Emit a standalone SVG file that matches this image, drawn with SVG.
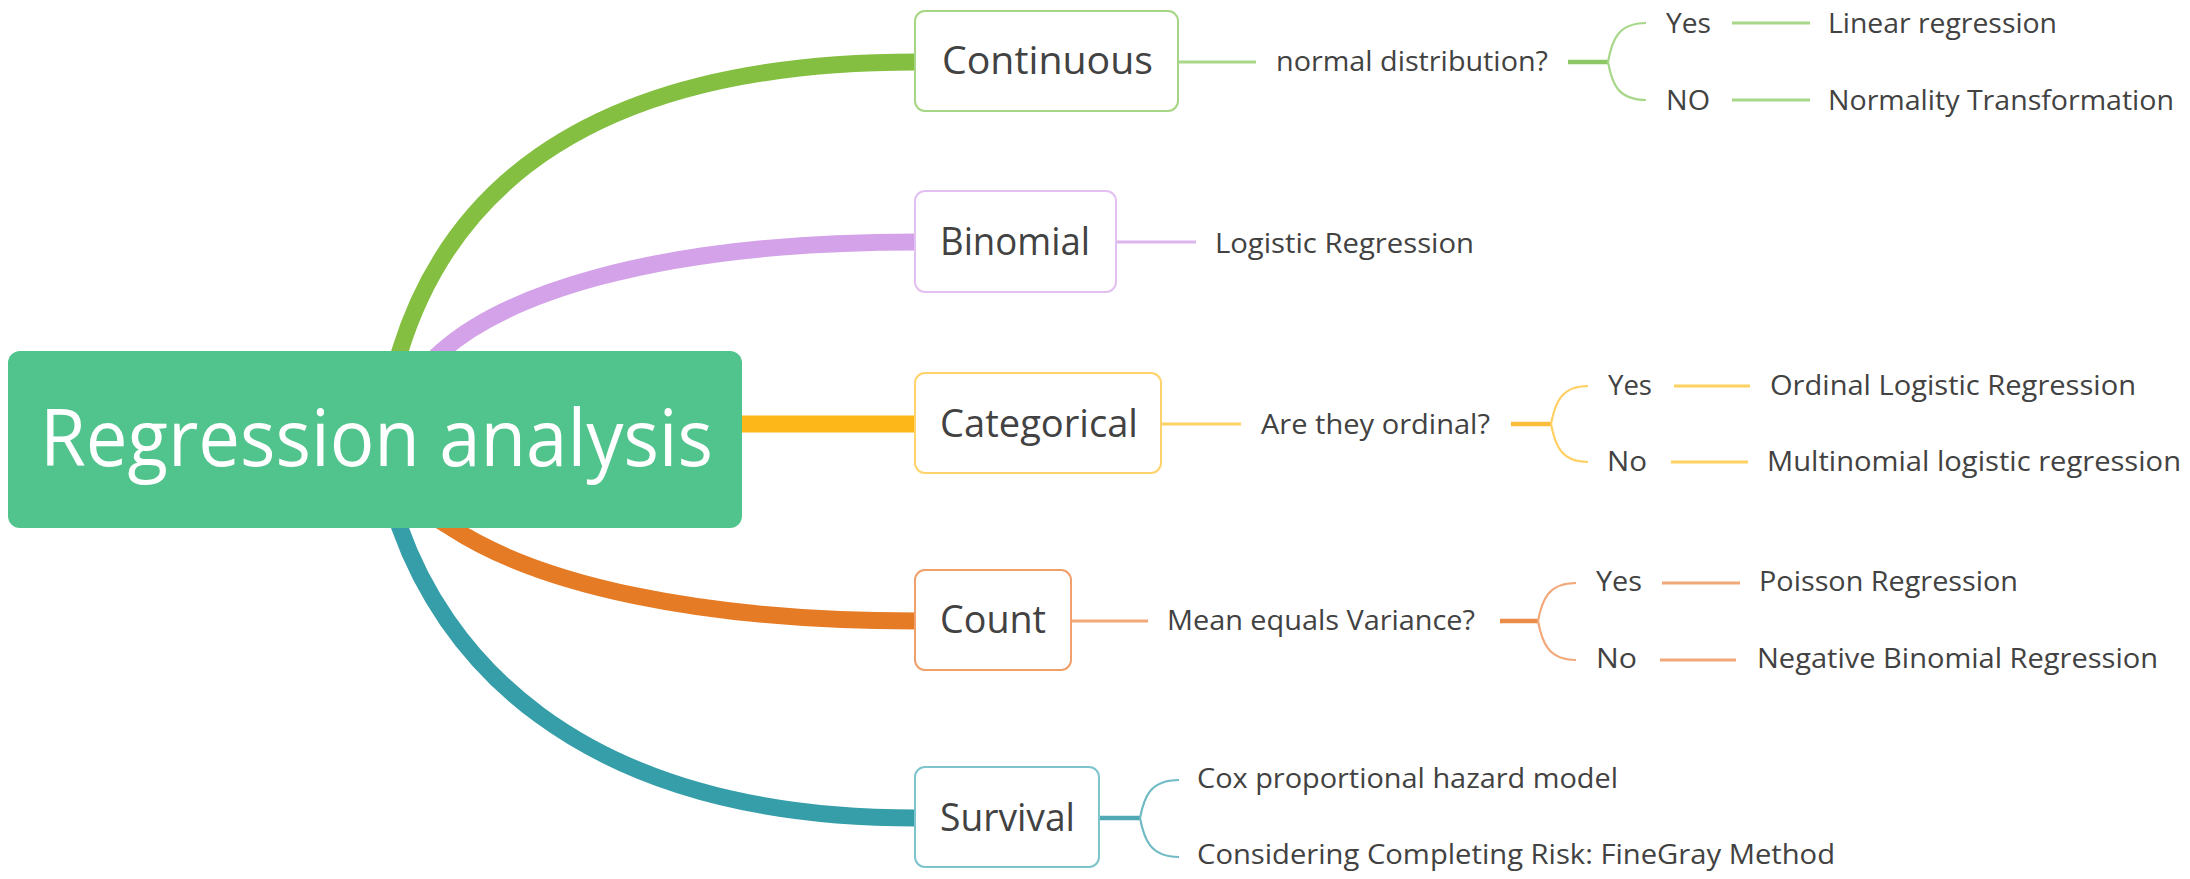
<svg xmlns="http://www.w3.org/2000/svg" width="2190" height="879" viewBox="0 0 2190 879">
<style>
.t{font-family:"Open Sans","Noto Sans","Liberation Sans",sans-serif;fill:#424242}
.nd{font-size:38px}
.sb{font-size:28px}
.rt{font-size:78px;fill:#ffffff}
.box{fill:#ffffff;stroke-width:2}
.main{fill:none;stroke-width:17;stroke-linecap:butt}
.thin{fill:none;stroke-width:3}
.brk{fill:none;stroke-width:2.2}
.mid{fill:none;stroke-width:4.5}
.g{stroke:#84BF41}.gl{stroke:#A8D78A}.gm{stroke:#8DC766}
.p{stroke:#D4A2E8}.pl{stroke:#DDB6EE}
.y{stroke:#FDB718}.yl{stroke:#FFD062}.ym{stroke:#FCBE3A}
.o{stroke:#E67B25}.ol{stroke:#F2A878}.om{stroke:#EA8C48}
.c{stroke:#369EA9}.cl{stroke:#6FBAC4}.cm{stroke:#4FA9B4}
</style>
<g id="connectors">
  <path class="main g" d="M395,367 L400,351 C442,215 560,62 916,62"/>
  <path class="main p" d="M431,361 L442,351 C500,300 640,242 916,242"/>
  <path class="main y" d="M730,424 L916,424"/>
  <path class="main o" d="M439,520 L452,528 C540,585 700,621 916,621"/>
  <path class="main c" d="M395,514 L400,528 C440,640 560,818 916,818"/>

  <path class="thin gl" d="M1178,62 L1256,62"/>
  <path class="mid gm" d="M1568,62 L1609,62"/>
  <path class="brk gl" d="M1608,62 C1612,40 1618,23 1646,23 M1608,62 C1612,84 1618,100 1646,100"/>
  <path class="thin gl" d="M1732,23 L1810,23 M1732,100 L1810,100"/>

  <path class="thin pl" d="M1116,242 L1196,242"/>

  <path class="thin yl" d="M1161,424 L1241,424"/>
  <path class="mid ym" d="M1511,424 L1552,424"/>
  <path class="brk yl" d="M1551,424 C1555,403 1561,386 1588,386 M1551,424 C1555,445 1561,462 1588,462"/>
  <path class="thin yl" d="M1674,386 L1750,386 M1671,462 L1748,462"/>

  <path class="thin ol" d="M1071,621 L1148,621"/>
  <path class="mid om" d="M1500,621 L1539,621"/>
  <path class="brk ol" d="M1538,621 C1542,600 1548,583 1576,583 M1538,621 C1542,642 1548,660 1576,660"/>
  <path class="thin ol" d="M1662,583 L1740,583 M1660,660 L1736,660"/>

  <path class="mid cm" d="M1099,818 L1141,818"/>
  <path class="brk cl" d="M1140,818 C1144,797 1150,780 1179,780 M1140,818 C1144,839 1150,857 1179,857"/>
</g>
<g id="root">
  <rect x="8" y="351" width="734" height="177" rx="12" fill="#51C38C"/>
  <text class="t rt" x="40" y="466" textLength="673" lengthAdjust="spacingAndGlyphs">Regression analysis</text>
</g>
<g id="continuous">
  <rect class="box" x="915" y="11" width="263" height="100" rx="10" stroke="#A6D683"/>
  <text class="t nd" x="942" y="74" textLength="211" lengthAdjust="spacingAndGlyphs">Continuous</text>
</g>
<g id="normal-distribution">
  <text class="t sb" x="1276" y="71" textLength="272" lengthAdjust="spacingAndGlyphs">normal distribution?</text>
</g>
<g id="cont-yes"><text class="t sb" x="1666" y="33" textLength="45" lengthAdjust="spacingAndGlyphs">Yes</text></g>
<g id="linear-regression"><text class="t sb" x="1828" y="33" textLength="229" lengthAdjust="spacingAndGlyphs">Linear regression</text></g>
<g id="cont-no"><text class="t sb" x="1666" y="110" textLength="44" lengthAdjust="spacingAndGlyphs">NO</text></g>
<g id="normality-transformation"><text class="t sb" x="1828" y="110" textLength="346" lengthAdjust="spacingAndGlyphs">Normality Transformation</text></g>

<g id="binomial">
  <rect class="box" x="915" y="191" width="201" height="101" rx="10" stroke="#E3C0F2"/>
  <text class="t nd" x="940" y="255" textLength="150" lengthAdjust="spacingAndGlyphs">Binomial</text>
</g>
<g id="logistic-regression"><text class="t sb" x="1215" y="253" textLength="259" lengthAdjust="spacingAndGlyphs">Logistic Regression</text></g>

<g id="categorical">
  <rect class="box" x="915" y="373" width="246" height="100" rx="10" stroke="#FFD36B"/>
  <text class="t nd" x="940" y="437" textLength="198" lengthAdjust="spacingAndGlyphs">Categorical</text>
</g>
<g id="ordinal-q"><text class="t sb" x="1261" y="434" textLength="229" lengthAdjust="spacingAndGlyphs">Are they ordinal?</text></g>
<g id="cat-yes"><text class="t sb" x="1608" y="395" textLength="44" lengthAdjust="spacingAndGlyphs">Yes</text></g>
<g id="ordinal-logistic"><text class="t sb" x="1770" y="395" textLength="366" lengthAdjust="spacingAndGlyphs">Ordinal Logistic Regression</text></g>
<g id="cat-no"><text class="t sb" x="1607" y="471" textLength="40" lengthAdjust="spacingAndGlyphs">No</text></g>
<g id="multinomial-logistic"><text class="t sb" x="1767" y="471" textLength="414" lengthAdjust="spacingAndGlyphs">Multinomial logistic regression</text></g>

<g id="count">
  <rect class="box" x="915" y="570" width="156" height="100" rx="10" stroke="#F0A06A"/>
  <text class="t nd" x="940" y="633" textLength="106" lengthAdjust="spacingAndGlyphs">Count</text>
</g>
<g id="mean-variance"><text class="t sb" x="1167" y="630" textLength="308" lengthAdjust="spacingAndGlyphs">Mean equals Variance?</text></g>
<g id="count-yes"><text class="t sb" x="1596" y="591" textLength="46" lengthAdjust="spacingAndGlyphs">Yes</text></g>
<g id="poisson"><text class="t sb" x="1759" y="591" textLength="259" lengthAdjust="spacingAndGlyphs">Poisson Regression</text></g>
<g id="count-no"><text class="t sb" x="1596" y="668" textLength="41" lengthAdjust="spacingAndGlyphs">No</text></g>
<g id="negative-binomial"><text class="t sb" x="1757" y="668" textLength="401" lengthAdjust="spacingAndGlyphs">Negative Binomial Regression</text></g>

<g id="survival">
  <rect class="box" x="915" y="767" width="184" height="100" rx="10" stroke="#7EC4CC"/>
  <text class="t nd" x="940" y="831" textLength="135" lengthAdjust="spacingAndGlyphs">Survival</text>
</g>
<g id="cox"><text class="t sb" x="1197" y="788" textLength="421" lengthAdjust="spacingAndGlyphs">Cox proportional hazard model</text></g>
<g id="finegray"><text class="t sb" x="1197" y="864" textLength="638" lengthAdjust="spacingAndGlyphs">Considering Completing Risk: FineGray Method</text></g>
</svg>
